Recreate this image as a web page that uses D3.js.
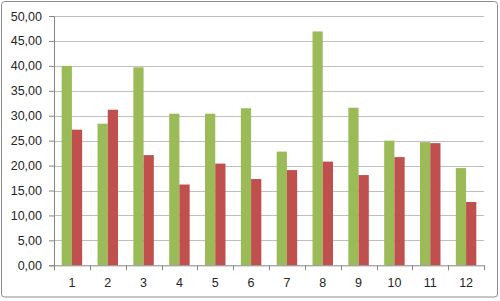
<!DOCTYPE html>
<html>
<head>
<meta charset="utf-8">
<script src="https://cdn.jsdelivr.net/npm/d3@7"></script>
<style>
  body { margin: 0; background: #fff; }
  text { font-family: "Liberation Sans", Arial, sans-serif; font-size: 12.5px; fill: #262626; }
</style>
</head>
<body>
<div id="chart"></div>
<script>
// categories and series
var categories = ["1", "2", "3", "4", "5", "6", "7", "8", "9", "10", "11", "12"];
var greenValues = [40.0, 28.4, 39.7, 30.4, 30.4, 31.5, 22.8, 46.9, 31.6, 25.0, 24.7, 19.5];
var redValues = [27.2, 31.2, 22.1, 16.2, 20.4, 17.3, 19.1, 20.8, 18.1, 21.7, 24.5, 12.7];
var yTicks = [0, 5, 10, 15, 20, 25, 30, 35, 40, 45, 50];

var svgWidth = 500;
var svgHeight = 301;

var margin = { top: 16, right: 16, bottom: 36, left: 54 };
var width = 484 - margin.left;
var height = 265.3 - margin.top;

var svg = d3.select("#chart")
  .append("svg")
  .attr("width", svgWidth)
  .attr("height", svgHeight);

// outer frame
svg.append("rect")
  .attr("x", 1.5)
  .attr("y", 1.5)
  .attr("width", 496)
  .attr("height", 295.5)
  .attr("rx", 3)
  .attr("fill", "#fff")
  .attr("stroke", "#8c8c8c")
  .attr("stroke-width", 1);

var chartGroup = svg.append("g")
  .attr("transform", `translate(${margin.left}, ${margin.top})`);

var xScale = d3.scaleBand()
  .domain(categories)
  .range([0, width]);

var yScale = d3.scaleLinear()
  .domain([0, 50])
  .range([height, 0]);

var fmt = d => d.toFixed(2).replace(".", ",");

// gridlines
chartGroup.append("g")
  .selectAll("line")
  .data(yTicks.slice(1))
  .enter()
  .append("line")
  .attr("x1", 0)
  .attr("x2", width)
  .attr("y1", d => Math.round(yScale(d)) + 0.5)
  .attr("y2", d => Math.round(yScale(d)) + 0.5)
  .attr("stroke", "#bfbfbf");

// bars
var barWidth = xScale.bandwidth() / 3.5;
var rows = categories.map((c, i) => ({ cat: c, green: greenValues[i], red: redValues[i] }));

chartGroup.selectAll(".green")
  .data(rows)
  .enter()
  .append("rect")
  .attr("x", d => xScale(d.cat) + xScale.bandwidth() / 2 - barWidth)
  .attr("y", d => yScale(d.green))
  .attr("width", barWidth)
  .attr("height", d => height - yScale(d.green))
  .attr("fill", "#9bbb59");

chartGroup.selectAll(".red")
  .data(rows)
  .enter()
  .append("rect")
  .attr("x", d => xScale(d.cat) + xScale.bandwidth() / 2)
  .attr("y", d => yScale(d.red))
  .attr("width", barWidth)
  .attr("height", d => height - yScale(d.red))
  .attr("fill", "#c0504d");

// y axis
var yAxis = chartGroup.append("g")
  .call(d3.axisLeft(yScale).tickValues(yTicks).tickFormat(fmt).tickSize(5).tickPadding(7));
yAxis.select(".domain").attr("stroke", "#868686");
yAxis.selectAll(".tick line").attr("stroke", "#868686");
yAxis.selectAll("text").style("font-size", "12.5px").attr("fill", "#262626");

// x axis with ticks between categories
var xAxisGroup = chartGroup.append("g")
  .attr("transform", `translate(0, ${height})`);
xAxisGroup.append("line")
  .attr("x1", 0)
  .attr("x2", width)
  .attr("y1", 0.5)
  .attr("y2", 0.5)
  .attr("stroke", "#868686");
xAxisGroup.selectAll(".sep")
  .data(d3.range(categories.length + 1))
  .enter()
  .append("line")
  .attr("x1", i => Math.round(i * xScale.step()) + 0.5)
  .attr("x2", i => Math.round(i * xScale.step()) + 0.5)
  .attr("y1", 0)
  .attr("y2", 5)
  .attr("stroke", "#868686");
xAxisGroup.selectAll(".lbl")
  .data(categories)
  .enter()
  .append("text")
  .attr("x", d => xScale(d) + xScale.bandwidth() / 2)
  .attr("y", 22)
  .attr("text-anchor", "middle")
  .text(d => d);
</script>
</body>
</html>
